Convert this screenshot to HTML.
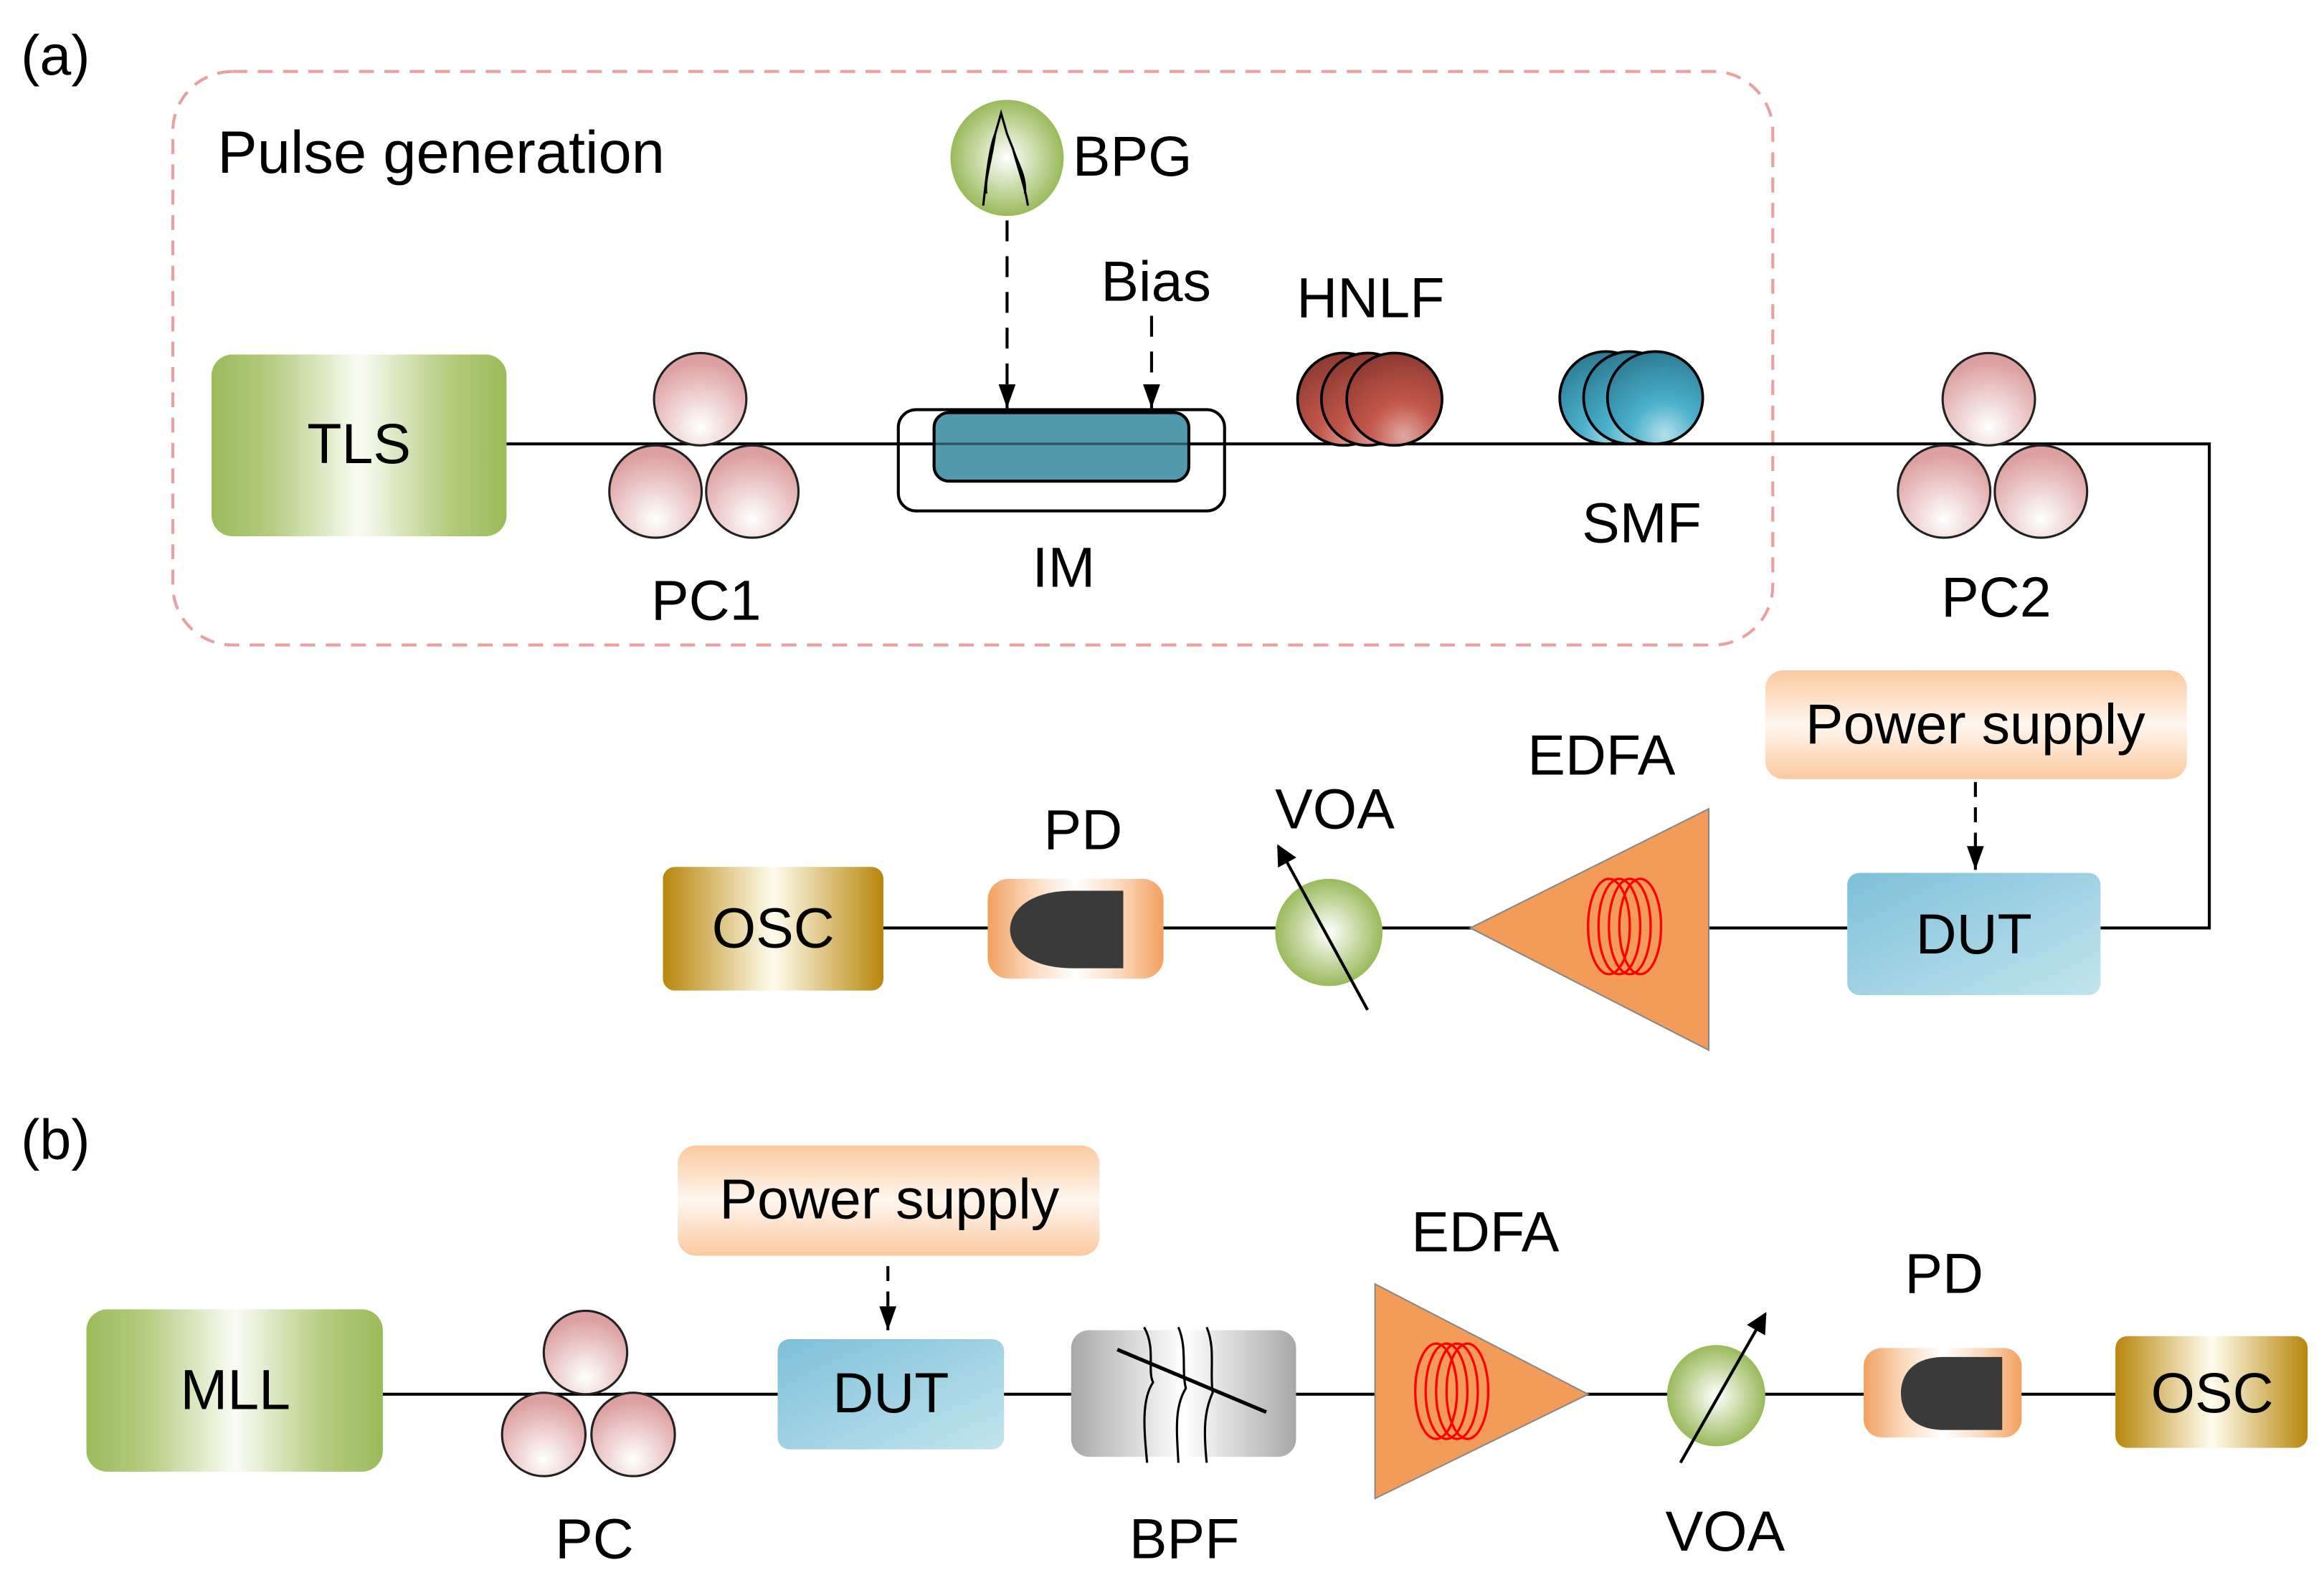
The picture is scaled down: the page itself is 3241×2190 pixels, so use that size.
<!DOCTYPE html>
<html><head><meta charset="utf-8"><style>html,body{margin:0;padding:0;background:#fff}svg{display:block}</style></head><body>
<svg width="3241" height="2190" viewBox="0 0 1560 1054" preserveAspectRatio="none" xmlns="http://www.w3.org/2000/svg" font-family="Liberation Sans, sans-serif" font-size="38">
<defs>
<linearGradient id="grn" x1="0" x2="1"><stop offset="0" stop-color="#9bbb59"/><stop offset="0.2" stop-color="#b4cc80"/><stop offset="0.5" stop-color="#fafcf4"/><stop offset="0.8" stop-color="#b4cc80"/><stop offset="1" stop-color="#9bbb59"/></linearGradient>
<linearGradient id="gold" x1="0" x2="1"><stop offset="0" stop-color="#b8860b"/><stop offset="0.5" stop-color="#fffcee"/><stop offset="1" stop-color="#b8860b"/></linearGradient>
<linearGradient id="org" x1="0" x2="1"><stop offset="0" stop-color="#f3a060"/><stop offset="0.25" stop-color="#fbd9bd"/><stop offset="0.5" stop-color="#fff"/><stop offset="0.75" stop-color="#fbd9bd"/><stop offset="1" stop-color="#f3a060"/></linearGradient>
<linearGradient id="ps" x1="0" x2="0" y1="0" y2="1"><stop offset="0" stop-color="#fbc9a0"/><stop offset="0.5" stop-color="#fff6ee"/><stop offset="1" stop-color="#fbc9a0"/></linearGradient>
<linearGradient id="dut" x1="0" x2="1" y1="0" y2="1"><stop offset="0" stop-color="#7dc0d8"/><stop offset="1" stop-color="#c2e4ee"/></linearGradient>
<linearGradient id="gray" x1="0" x2="1"><stop offset="0" stop-color="#a8a8a8"/><stop offset="0.5" stop-color="#fff"/><stop offset="1" stop-color="#a8a8a8"/></linearGradient>
<radialGradient id="pink" cx="0.5" cy="0.8" r="0.7"><stop offset="0" stop-color="#fff"/><stop offset="1" stop-color="#dda0a0"/></radialGradient>
<radialGradient id="gball" cx="0.5" cy="0.5" r="0.55"><stop offset="0" stop-color="#fff"/><stop offset="1" stop-color="#8fb34a"/></radialGradient>
<radialGradient id="red" cx="0.6" cy="0.9" r="0.9"><stop offset="0" stop-color="#e0a8a4"/><stop offset="0.4" stop-color="#c4584c"/><stop offset="1" stop-color="#8e3a32"/></radialGradient>
<radialGradient id="teal" cx="0.6" cy="0.9" r="0.9"><stop offset="0" stop-color="#b4e0ea"/><stop offset="0.4" stop-color="#4ab0cc"/><stop offset="1" stop-color="#2e7c94"/></radialGradient>
<marker id="ar" viewBox="0 0 14 10" markerWidth="16" markerHeight="12" refX="14" refY="5" orient="auto" markerUnits="userSpaceOnUse"><path d="M0,0 L14,5 L0,10 z" fill="#000"/></marker>
<marker id="ar2" viewBox="0 0 10 10" markerWidth="16" markerHeight="14" refX="9" refY="5" orient="auto" markerUnits="userSpaceOnUse"><path d="M0,0 L10,5 L0,10 z" fill="#000"/></marker>
<g id="coil" fill="none" stroke="#f00" stroke-width="1.6"><ellipse cx="-10" cy="0" rx="14" ry="32"/><ellipse cx="-3" cy="0" rx="14" ry="32"/><ellipse cx="4" cy="0" rx="14" ry="32"/><ellipse cx="11" cy="0" rx="14" ry="32"/></g>
</defs>
<rect width="1560" height="1054" fill="#fff"/>
<!-- (a) -->
<text x="14" y="50">(a)</text>
<rect x="116" y="48" width="1074" height="385" rx="40" fill="none" stroke="#e8a0a0" stroke-width="2" stroke-dasharray="10,7"/>
<text x="146" y="116" font-size="40">Pulse generation</text>
<polyline points="340,298 1483,298 1483,623 1410,623" fill="none" stroke="#000" stroke-width="2"/>
<line x1="593" y1="623" x2="1240" y2="623" stroke="#000" stroke-width="2"/>
<rect x="142" y="238" width="198" height="122" rx="14" fill="url(#grn)"/>
<text x="241" y="311" text-anchor="middle">TLS</text>
<g stroke="#222" stroke-width="1.5" fill="url(#pink)"><circle cx="470" cy="268" r="31"/><circle cx="440" cy="330" r="31"/><circle cx="505" cy="330" r="31"/></g>
<text x="474" y="416" text-anchor="middle">PC1</text>
<ellipse cx="676" cy="106" rx="38" ry="39" fill="url(#gball)"/>
<path d="M660,138 C662,120 664,100 668,90 L672,76 L676,90 L680,100 C684,115 688,125 690,138 M668,90 C665,110 661,120 662,130 M680,100 C683,110 689,118 688,130" fill="none" stroke="#000" stroke-width="1.5"/>
<text x="720" y="118">BPG</text>
<line x1="676" y1="148" x2="676" y2="274" stroke="#000" stroke-width="2" stroke-dasharray="14,10" marker-end="url(#ar)"/>
<text x="776" y="202" text-anchor="middle">Bias</text>
<line x1="773" y1="212" x2="773" y2="274" stroke="#000" stroke-width="2" stroke-dasharray="14,10" marker-end="url(#ar)"/>
<rect x="603" y="275" width="219" height="68" rx="12" fill="none" stroke="#000" stroke-width="2"/>
<rect x="627" y="277" width="171" height="46" rx="10" fill="#4a94a8" fill-opacity="0.95" stroke="#000" stroke-width="2"/>
<line x1="603" y1="298" x2="822" y2="298" stroke="#000" stroke-width="1.5" stroke-opacity="0.4"/>
<text x="714" y="394" text-anchor="middle">IM</text>
<g stroke="#000" stroke-width="1.8" fill="url(#red)"><ellipse cx="902" cy="268" rx="31" ry="31"/><ellipse cx="918" cy="268" rx="31" ry="31"/><ellipse cx="936" cy="268" rx="32" ry="31"/></g>
<text x="920" y="213" text-anchor="middle">HNLF</text>
<g stroke="#000" stroke-width="1.8" fill="url(#teal)"><ellipse cx="1078" cy="267" rx="31" ry="31"/><ellipse cx="1094" cy="267" rx="31" ry="31"/><ellipse cx="1111" cy="267" rx="32" ry="31"/></g>
<text x="1102" y="364" text-anchor="middle">SMF</text>
<g stroke="#222" stroke-width="1.5" fill="url(#pink)"><circle cx="1335" cy="268" r="31"/><circle cx="1305" cy="330" r="31"/><circle cx="1370" cy="330" r="31"/></g>
<text x="1340" y="414" text-anchor="middle">PC2</text>
<rect x="1185" y="450" width="283" height="73" rx="12" fill="url(#ps)"/>
<text x="1326" y="499" text-anchor="middle">Power supply</text>
<line x1="1326" y1="525" x2="1326" y2="584" stroke="#000" stroke-width="2" stroke-dasharray="10,7" marker-end="url(#ar)"/>
<rect x="1240" y="586" width="170" height="82" rx="8" fill="url(#dut)"/>
<text x="1325" y="640" text-anchor="middle">DUT</text>
<polygon points="987,623 1147,543 1147,705" fill="#f39c5a" stroke="#888" stroke-width="1"/>
<use href="#coil" x="1090" y="622"/>
<text x="1075" y="520" text-anchor="middle">EDFA</text>
<ellipse cx="892" cy="626" rx="36" ry="36" fill="url(#gball)"/>
<line x1="918" y1="678" x2="858" y2="568" stroke="#000" stroke-width="2" marker-end="url(#ar2)"/>
<text x="896" y="556" text-anchor="middle">VOA</text>
<rect x="663" y="590" width="118" height="67" rx="14" fill="url(#org)"/>
<path d="M754,598 L720,598 C690,598 678,612 678,624 C678,636 690,650 720,650 L754,650 z" fill="#3a3a3a"/>
<text x="727" y="570" text-anchor="middle">PD</text>
<rect x="445" y="582" width="148" height="83" rx="8" fill="url(#gold)"/>
<text x="519" y="636" text-anchor="middle">OSC</text>
<!-- (b) -->
<text x="14" y="778">(b)</text>
<line x1="257" y1="936" x2="1420" y2="936" stroke="#000" stroke-width="2"/>
<rect x="58" y="879" width="199" height="109" rx="14" fill="url(#grn)"/>
<text x="158" y="946" text-anchor="middle">MLL</text>
<g stroke="#222" stroke-width="1.5" fill="url(#pink)"><circle cx="393" cy="908" r="28"/><circle cx="365" cy="963" r="28"/><circle cx="425" cy="963" r="28"/></g>
<text x="399" y="1046" text-anchor="middle">PC</text>
<rect x="455" y="769" width="283" height="74" rx="12" fill="url(#ps)"/>
<text x="597" y="818" text-anchor="middle">Power supply</text>
<line x1="596" y1="850" x2="596" y2="893" stroke="#000" stroke-width="2" stroke-dasharray="10,7" marker-end="url(#ar)"/>
<rect x="522" y="899" width="152" height="74" rx="8" fill="url(#dut)"/>
<text x="598" y="948" text-anchor="middle">DUT</text>
<rect x="719" y="893" width="151" height="85" rx="12" fill="url(#gray)"/>
<g fill="none" stroke="#000" stroke-width="1.5"><path d="M768,891 C776,905 770,920 774,928 C766,940 768,960 770,982"/><path d="M791,891 C797,905 793,920 796,932 C788,945 790,962 791,982"/><path d="M810,891 C816,905 812,920 814,935 C808,948 808,962 810,982"/></g>
<line x1="750" y1="906" x2="850" y2="948" stroke="#000" stroke-width="2.5"/>
<text x="795" y="1046" text-anchor="middle">BPF</text>
<polygon points="923,862 923,1006 1066,936" fill="#f39c5a" stroke="#888" stroke-width="1"/>
<use href="#coil" x="974" y="934"/>
<text x="997" y="840" text-anchor="middle">EDFA</text>
<ellipse cx="1152" cy="937" rx="33" ry="34" fill="url(#gball)"/>
<line x1="1128" y1="982" x2="1185" y2="882" stroke="#000" stroke-width="2" marker-end="url(#ar2)"/>
<text x="1158" y="1041" text-anchor="middle">VOA</text>
<rect x="1251" y="905" width="106" height="60" rx="12" fill="url(#org)"/>
<path d="M1344,911 L1305,911 C1282,911 1276,925 1276,935 C1276,946 1282,960 1305,960 L1344,960 z" fill="#3a3a3a"/>
<text x="1305" y="868" text-anchor="middle">PD</text>
<rect x="1420" y="897" width="129" height="75" rx="8" fill="url(#gold)"/>
<text x="1485" y="948" text-anchor="middle">OSC</text>
</svg>
</body></html>
